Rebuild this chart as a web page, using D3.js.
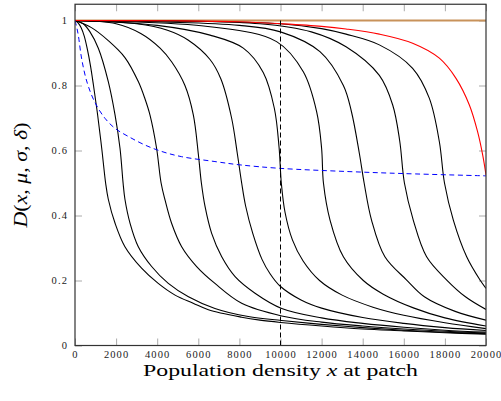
<!DOCTYPE html>
<html>
<head>
<meta charset="utf-8">
<script src="https://cdn.jsdelivr.net/npm/d3@7"></script>
<style>
body { margin: 0; background: #fff; }
.tick text { font-family: "Liberation Serif", serif; font-size: 10.5px; letter-spacing: 1.1px; fill: #222; }
.tick line { stroke: #aaa; }
</style>
</head>
<body>
<div id="chart"></div>
<script>
// tick values
var xTicks = [0, 2000, 4000, 6000, 8000, 10000, 12000, 14000, 16000, 18000, 20000];
var yTicks = [0, 0.2, 0.4, 0.6, 0.8, 1];

// black curves as [x, D] pairs
var mu1 = [[0,1],[150,0.993],[300,0.978],[450,0.952],[600,0.912],[750,0.862],[900,0.8],[1100,0.71],[1300,0.607],[1490,0.5],[1620,0.45],[1950,0.376],[2430,0.304],[3240,0.238],[4050,0.191],[4870,0.155],[5750,0.13],[6490,0.11],[8110,0.087],[9000,0.078],[10000,0.071],[12000,0.06],[14000,0.051],[16000,0.045],[18000,0.039],[20000,0.035]];
var mu2 = [[0,1],[400,0.99],[730,0.965],[1140,0.914],[1620,0.812],[1950,0.709],[2190,0.607],[2340,0.5],[2430,0.45],[2680,0.376],[3080,0.304],[3730,0.243],[4540,0.191],[5520,0.15],[6810,0.114],[8430,0.089],[10060,0.077],[12000,0.065],[14000,0.055],[16000,0.047],[18000,0.041],[20000,0.036]];
var mu3 = [[0,1],[800,0.978],[1620,0.938],[2430,0.886],[3080,0.812],[3400,0.76],[3650,0.709],[3970,0.607],[4190,0.5],[4380,0.448],[4700,0.376],[5190,0.304],[5920,0.243],[6810,0.191],[8110,0.13],[10060,0.091],[12000,0.072],[14000,0.06],[16000,0.051],[18000,0.044],[20000,0.038]];
var mu4 = [[0,1],[2000,0.99],[3200,0.96],[4140,0.915],[4700,0.873],[5350,0.8],[5760,0.709],[6000,0.59],[6150,0.5],[6330,0.427],[6650,0.345],[7140,0.273],[7790,0.212],[8760,0.161],[10060,0.114],[12000,0.085],[14000,0.068],[16000,0.056],[18000,0.047],[20000,0.041]];
var mu5 = [[0,1],[3000,0.99],[4500,0.97],[5500,0.94],[6570,0.88],[7100,0.82],[7620,0.7],[7900,0.59],[8110,0.5],[8300,0.43],[8650,0.345],[9100,0.265],[9500,0.22],[9975,0.183],[11000,0.14],[12000,0.115],[14000,0.086],[16000,0.068],[18000,0.055],[20000,0.046]];
var mu6 = [[0,1],[4000,0.985],[6570,0.955],[8190,0.915],[9160,0.84],[9700,0.73],[9930,0.61],[10040,0.5],[10220,0.41],[10580,0.325],[11100,0.26],[11900,0.2],[13000,0.155],[14500,0.118],[16000,0.093],[18000,0.07],[20000,0.052]];
var mu7 = [[0,1],[6570,0.981],[9810,0.935],[11110,0.842],[11760,0.719],[12000,0.607],[12090,0.5],[12410,0.386],[13060,0.273],[14030,0.2],[15000,0.158],[16500,0.115],[18000,0.085],[20000,0.06]];
var mu8 = [[0,1],[8000,0.985],[10000,0.965],[11920,0.904],[13060,0.8],[13450,0.72],[13840,0.59],[14070,0.5],[14430,0.386],[15080,0.273],[16140,0.2015],[17000,0.15],[18500,0.105],[20000,0.078]];
var mu9 = [[0,1],[9000,0.99],[11500,0.965],[13190,0.919],[14810,0.831],[15460,0.74],[15800,0.63],[16030,0.5],[16460,0.386],[17110,0.273],[18090,0.2015],[19000,0.15],[20000,0.111]];
var mu10 = [[0,1],[10000,0.99],[12000,0.975],[13190,0.958],[14810,0.925],[16430,0.853],[17240,0.761],[17730,0.627],[17980,0.5],[18410,0.386],[19060,0.273],[19710,0.2015],[20000,0.176]];

// red, blue dashed and the flat line at 1
var redCurve = [[0,1],[5000,0.999],[8000,0.996],[10000,0.99],[12000,0.982],[13190,0.974],[14810,0.958],[16430,0.93],[17730,0.884],[18540,0.822],[19190,0.74],[19590,0.658],[19840,0.586],[20000,0.525]];
var blueCurve = [[0,1],[80,0.98],[160,0.955],[330,0.88],[600,0.807],[970,0.748],[1460,0.699],[1950,0.668],[2600,0.643],[3400,0.617],[4220,0.597],[5190,0.581],[6810,0.566],[8000,0.556],[10000,0.545],[13380,0.535],[16000,0.529],[20000,0.522]];
var flatLine = [[0,1],[20000,1]];
var markerX = 10000;

var blackCurves = [mu1, mu2, mu3, mu4, mu5, mu6, mu7, mu8, mu9, mu10];

var width = 501, height = 401;

var x = d3.scaleLinear().domain([0, 20000]).range([75, 486]);
var y = d3.scaleLinear().domain([0, 1.05]).range([345.5, 4.25]);

var svg = d3.select('#chart').append('svg')
    .attr('width', width)
    .attr('height', height);

svg.append('defs').append('clipPath').attr('id', 'plot')
  .append('rect')
    .attr('x', x(0)).attr('y', y(1.05))
    .attr('width', x(20000) - x(0))
    .attr('height', y(0) - y(1.05));

// axes, ticks pointing inward on all four sides
svg.append('g')
    .attr('transform', 'translate(0,' + y(0) + ')')
    .call(d3.axisBottom(x).tickValues(xTicks).tickFormat(d3.format('d'))
      .tickSizeInner(-7).tickSizeOuter(0).tickPadding(5));

svg.append('g')
    .attr('transform', 'translate(0,' + y(1.05) + ')')
    .call(d3.axisTop(x).tickValues(xTicks).tickFormat('')
      .tickSizeInner(-7).tickSizeOuter(0));

svg.append('g')
    .attr('transform', 'translate(' + x(0) + ',0)')
    .call(d3.axisLeft(y).tickValues(yTicks).tickFormat(function(d){ return String(+d.toFixed(1)); })
      .tickSizeInner(-7).tickSizeOuter(0).tickPadding(7));

svg.append('g')
    .attr('transform', 'translate(' + x(20000) + ',0)')
    .call(d3.axisRight(y).tickValues(yTicks).tickFormat('')
      .tickSizeInner(-7).tickSizeOuter(0));

svg.selectAll('.domain').remove();

var line = d3.line()
    .x(function(d){ return x(d[0]); })
    .y(function(d){ return y(d[1]); })
    .curve(d3.curveCatmullRom.alpha(0.5));

var plot = svg.append('g').attr('clip-path', 'url(#plot)');

plot.append('path')
    .datum(flatLine)
    .attr('d', line)
    .attr('fill', 'none')
    .attr('stroke', '#c8925a')
    .attr('stroke-width', 2);

plot.selectAll('path.mu')
    .data(blackCurves)
  .enter().append('path')
    .attr('class', 'mu')
    .attr('d', line)
    .attr('fill', 'none')
    .attr('stroke', '#000')
    .attr('stroke-width', 1.1);

plot.append('path')
    .datum(redCurve)
    .attr('d', line)
    .attr('fill', 'none')
    .attr('stroke', '#ff0000')
    .attr('stroke-width', 1.1);

plot.append('path')
    .datum(blueCurve)
    .attr('d', line)
    .attr('fill', 'none')
    .attr('stroke', '#0000ff')
    .attr('stroke-width', 1)
    .attr('stroke-dasharray', '5,3.5');

plot.append('line')
    .attr('x1', x(markerX)).attr('x2', x(markerX))
    .attr('y1', y(0)).attr('y2', y(1))
    .attr('stroke', '#000')
    .attr('stroke-width', 1)
    .attr('stroke-dasharray', '5,3');

// frame
svg.append('rect')
    .attr('x', x(0)).attr('y', y(1.05))
    .attr('width', x(20000) - x(0))
    .attr('height', y(0) - y(1.05))
    .attr('fill', 'none')
    .attr('stroke', '#333')
    .attr('stroke-width', 1.2);

// axis titles
var xt = svg.append('text')
    .attr('x', (x(0) + x(20000)) / 2)
    .attr('y', 375.5)
    .attr('text-anchor', 'middle')
    .attr('textLength', 275)
    .attr('lengthAdjust', 'spacingAndGlyphs')
    .style('font-family', '"Liberation Serif", serif')
    .style('font-size', '16px');
xt.append('tspan').text('Population density ');
xt.append('tspan').style('font-style', 'italic').text('x');
xt.append('tspan').text(' at patch');

var yt = svg.append('text')
    .attr('transform', 'translate(27,175) rotate(-90)')
    .attr('text-anchor', 'middle')
    .attr('textLength', 105)
    .attr('lengthAdjust', 'spacingAndGlyphs')
    .style('font-family', '"Liberation Serif", serif')
    .style('font-size', '18px');
var parts = [['D', 1], ['(', 0], ['x', 1], [', ', 0], ['\u03bc', 1], [', ', 0], ['\u03c3', 1], [', ', 0], ['\u03b4', 1], [')', 0]];
parts.forEach(function(p){
  yt.append('tspan').style('font-style', p[1] ? 'italic' : 'normal').text(p[0]);
});
</script>
</body>
</html>
